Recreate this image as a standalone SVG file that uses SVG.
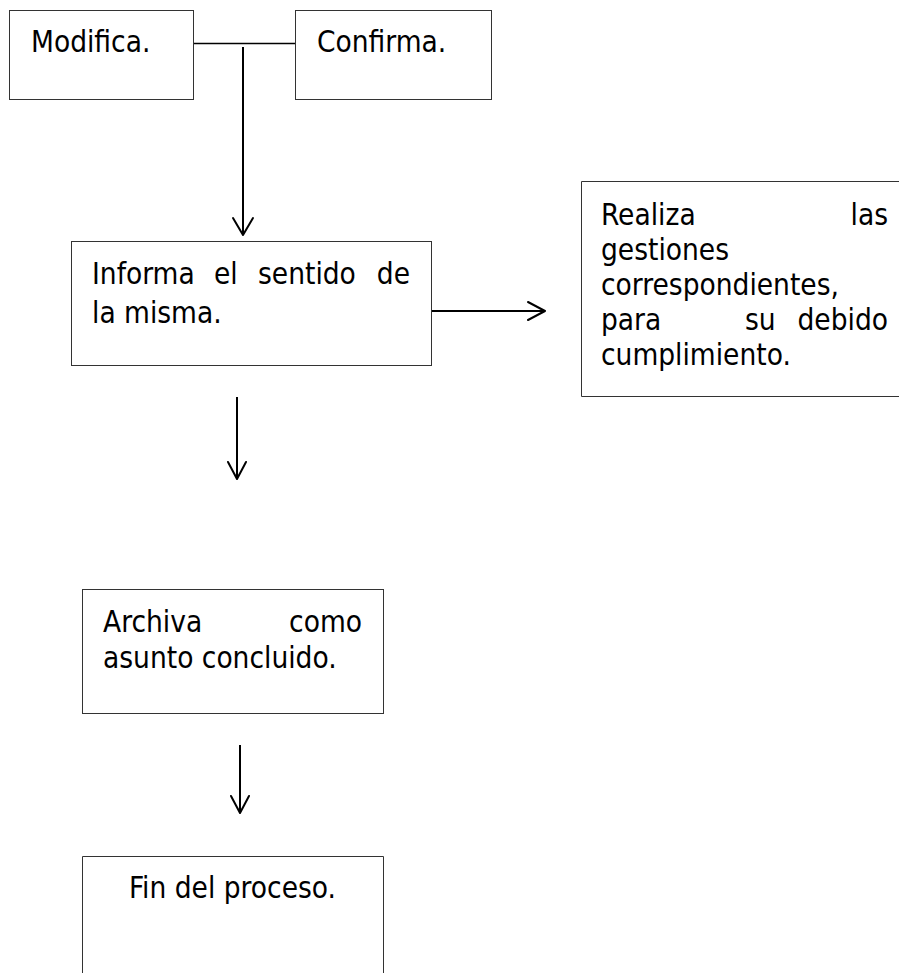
<svg xmlns="http://www.w3.org/2000/svg" width="899" height="973" viewBox="0 0 899 973">
<style>
.box{fill:#fff;stroke:#333;stroke-width:1}
.t{font-family:"DejaVu Sans Condensed","DejaVu Sans","Liberation Sans",sans-serif;font-stretch:condensed;font-size:29.5px;fill:#000}
.c{fill:none;stroke:#000;stroke-width:2}
.h{fill:none;stroke:#000;stroke-width:2;stroke-linecap:round;stroke-linejoin:round}
</style>
<rect width="899" height="973" fill="#fff"/>
<g id="connectors">
<line class="c" x1="193" y1="43.5" x2="295" y2="43.5" style="stroke-width:1.3"/>
<line class="c" x1="243" y1="47" x2="243" y2="235"/>
<polyline class="h" points="233,218 243,235 253,218"/>
<line class="c" x1="431" y1="311" x2="545" y2="311"/>
<polyline class="h" points="528,302 545,311 528,320"/>
<line class="c" x1="237" y1="397" x2="237" y2="479"/>
<polyline class="h" points="228,462 237,479 246,462"/>
<line class="c" x1="240" y1="745" x2="240" y2="813"/>
<polyline class="h" points="231,796 240,813 249,796"/>
</g>
<g id="modifica">
<rect class="box" x="9.5" y="10.5" width="184" height="89"/>
<text class="t" x="31" y="52">Modifica.</text>
</g>
<g id="confirma">
<rect class="box" x="295.5" y="10.5" width="196" height="89"/>
<text class="t" x="317" y="52">Confirma.</text>
</g>
<g id="informa">
<rect class="box" x="71.5" y="241.5" width="360" height="124"/>
<text class="t" y="284"><tspan x="92">Informa</tspan><tspan x="214">el</tspan><tspan x="258">sentido</tspan><tspan x="410" text-anchor="end">de</tspan></text>
<text class="t" x="92" y="323">la misma.</text>
</g>
<g id="realiza">
<path class="box" d="M900,181.5 H581.5 V396.5 H900"/>
<text class="t" x="601" y="225">Realiza</text>
<text class="t" x="888" y="225" text-anchor="end">las</text>
<text class="t" x="601" y="260">gestiones</text>
<text class="t" x="601" y="295">correspondientes,</text>
<text class="t" x="601" y="330">para</text>
<text class="t" x="745" y="330">su</text>
<text class="t" x="888" y="330" text-anchor="end">debido</text>
<text class="t" x="601" y="365">cumplimiento.</text>
</g>
<g id="archiva">
<rect class="box" x="82.5" y="589.5" width="301" height="124"/>
<text class="t" x="103" y="632">Archiva</text>
<text class="t" x="362" y="632" text-anchor="end">como</text>
<text class="t" x="103" y="668">asunto concluido.</text>
</g>
<g id="fin">
<path class="box" d="M82.5,975 V856.5 H383.5 V975"/>
<text class="t" x="232.5" y="898" text-anchor="middle">Fin del proceso.</text>
</g>
</svg>
